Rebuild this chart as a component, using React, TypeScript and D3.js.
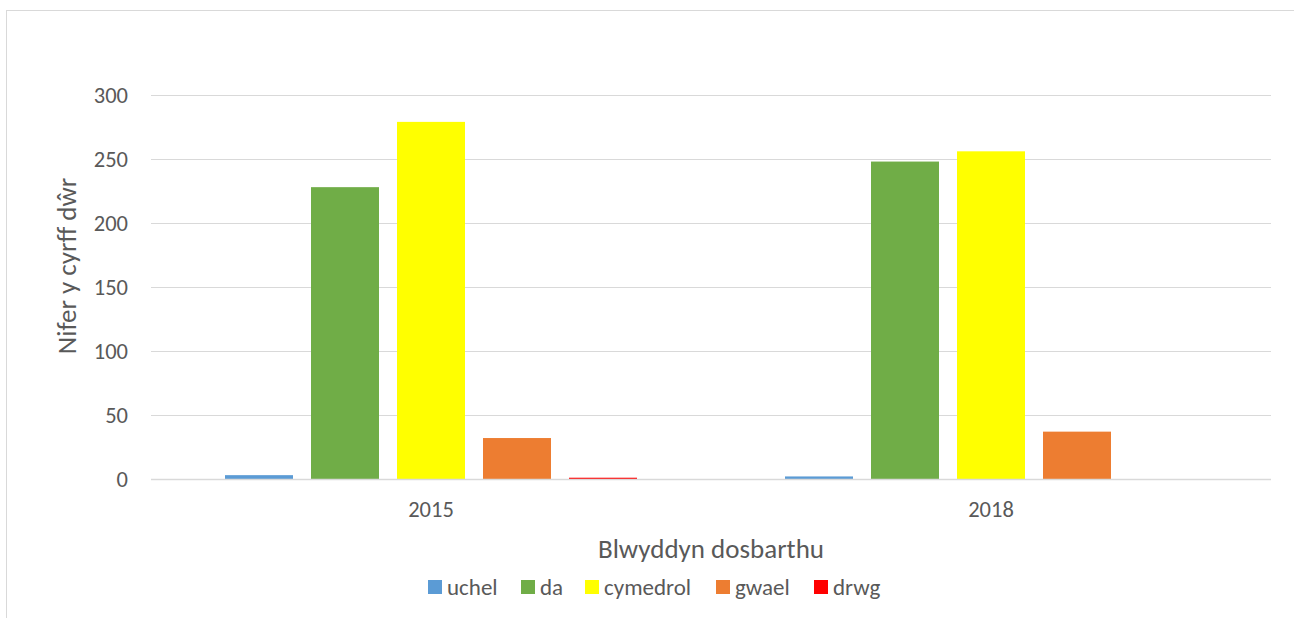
import React, { useEffect, useRef } from 'react';
import * as d3 from 'd3';

const years = ['2015', '2018'];
const classes = ['uchel', 'da', 'cymedrol', 'gwael', 'drwg'];
const classColors = ['#5b9bd5', '#70ad47', '#ffff00', '#ed7d31', '#ff0000'];
const values2015 = [3, 228, 279, 32, 1];
const values2018 = [2, 248, 256, 37, 0];
const yTicks = [0, 50, 100, 150, 200, 250, 300];

const width = 1294;
const height = 618;
const font = 'Carlito, Lato, "Open Sans", sans-serif';
const textColor = '#595959';

export default function App() {
  const ref = useRef<SVGSVGElement>(null);

  useEffect(() => {
    const svg = d3.select(ref.current);
    svg.selectAll('*').remove();

    const left = 151;
    const right = 1271;
    const top = 95;
    const bottom = 479;

    // outer chart frame
    svg
      .append('rect')
      .attr('x', 6.5)
      .attr('y', 10.5)
      .attr('width', width + 20)
      .attr('height', height + 20)
      .attr('fill', '#fff')
      .attr('stroke', '#d9d9d9');

    const x0 = d3.scaleBand().domain(years).range([left, right]);
    const x1 = d3
      .scaleBand()
      .domain(classes)
      .range([74, x0.bandwidth() - 74])
      .paddingInner(18 / 86);
    const y = d3.scaleLinear().domain([0, 300]).range([bottom, top]);

    const grid = svg.append('g');
    grid
      .selectAll('line')
      .data(yTicks)
      .join('line')
      .attr('x1', left)
      .attr('x2', right)
      .attr('y1', (d) => y(d) + 0.5)
      .attr('y2', (d) => y(d) + 0.5)
      .attr('stroke', '#d9d9d9')
      .attr('stroke-width', 1);

    grid
      .selectAll('text')
      .data(yTicks)
      .join('text')
      .attr('x', 128)
      .attr('y', (d) => y(d))
      .attr('dy', '0.35em')
      .attr('text-anchor', 'end')
      .attr('font-family', font)
      .attr('font-size', 22.5)
      .attr('fill', textColor)
      .text((d) => d);

    const series = [values2015, values2018];
    const groups = svg
      .append('g')
      .selectAll('g')
      .data(years)
      .join('g')
      .attr('transform', (d) => `translate(${x0(d)},0)`);

    groups
      .selectAll('rect')
      .data((d, i) => classes.map((c, j) => ({ c, j, v: series[i][j] })))
      .join('rect')
      .attr('x', (d) => x1(d.c)!)
      .attr('width', x1.bandwidth())
      .attr('y', (d) => y(d.v))
      .attr('height', (d) => bottom - y(d.v))
      .attr('fill', (d) => classColors[d.j]);

    // baseline on top of bars
    svg
      .append('line')
      .attr('x1', left)
      .attr('x2', right)
      .attr('y1', bottom + 0.5)
      .attr('y2', bottom + 0.5)
      .attr('stroke', '#d9d9d9')
      .attr('stroke-width', 1.5);

    svg
      .append('g')
      .selectAll('text')
      .data(years)
      .join('text')
      .attr('x', (d) => x0(d)! + x0.bandwidth() / 2)
      .attr('y', 517)
      .attr('text-anchor', 'middle')
      .attr('font-family', font)
      .attr('font-size', 22.5)
      .attr('fill', textColor)
      .text((d) => d);

    svg
      .append('text')
      .attr('x', (left + right) / 2)
      .attr('y', 558)
      .attr('text-anchor', 'middle')
      .attr('font-family', font)
      .attr('font-size', 27)
      .attr('fill', textColor)
      .text('Blwyddyn dosbarthu');

    svg
      .append('text')
      .attr('transform', 'translate(76,266) rotate(-90)')
      .attr('text-anchor', 'middle')
      .attr('font-family', font)
      .attr('font-size', 27)
      .attr('fill', textColor)
      .text('Nifer y cyrff dŵr');

    // legend
    const legendX = [428, 521, 585, 716, 814];
    const legend = svg
      .append('g')
      .selectAll('g')
      .data(classes)
      .join('g')
      .attr('transform', (d, i) => `translate(${legendX[i]},580)`);
    legend
      .append('rect')
      .attr('width', 14)
      .attr('height', 14)
      .attr('fill', (d, i) => classColors[i]);
    legend
      .append('text')
      .attr('x', 19)
      .attr('y', 7)
      .attr('dy', '0.35em')
      .attr('font-family', font)
      .attr('font-size', 23)
      .attr('fill', textColor)
      .text((d) => d);
  }, []);

  return (
    <svg
      ref={ref}
      width={width}
      height={height}
      style={{ position: 'absolute', left: 0, top: 0, background: '#fff' }}
    />
  );
}
